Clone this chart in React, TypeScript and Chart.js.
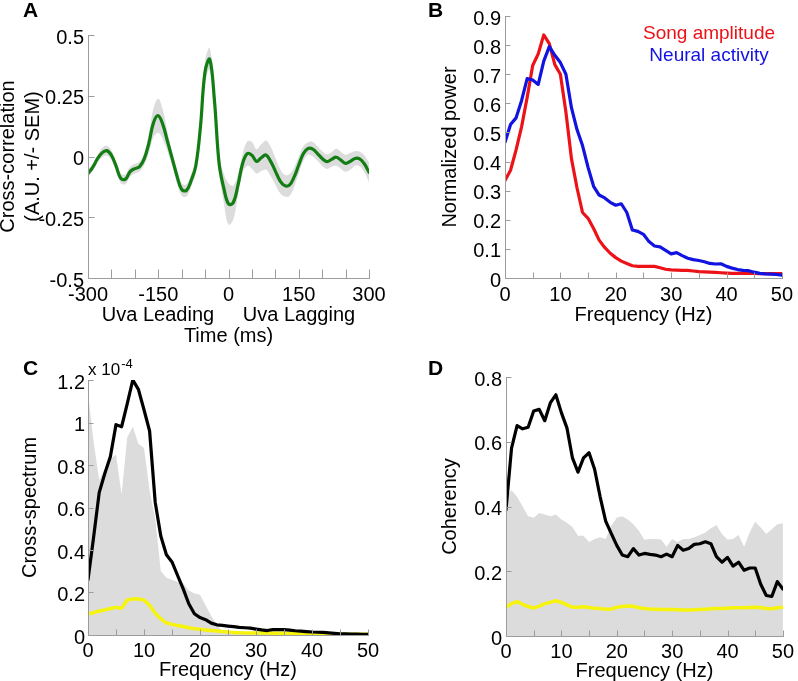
import React, { useEffect, useRef } from "react";
import { Chart, registerables } from "chart.js";

Chart.register(...registerables);
Chart.defaults.font.family = '"Liberation Sans", Arial, sans-serif';
Chart.defaults.color = "#000";

// ---------- Panel A : cross-correlation ----------
const lagMs = [
  -300, -290, -280, -270, -260, -250, -240, -230, -220, -210, -200, -190, -180, -170, -160, -150,
  -140, -130, -120, -110, -100, -90, -80, -70, -60, -50, -40, -30, -20, -10, 0, 10, 20, 30, 40, 50,
  60, 70, 80, 90, 100, 110, 120, 130, 140, 150, 160, 170, 180, 190, 200, 210, 220, 230, 240, 250,
  260, 270, 280, 290, 300,
];
const xcorrMean = [
  -0.07, -0.045, -0.01, 0.015, 0.024, 0.005, -0.04, -0.09, -0.093, -0.062, -0.05, -0.042, -0.01,
  0.055, 0.14, 0.168, 0.13, 0.06, -0.01, -0.08, -0.135, -0.14, -0.1, -0.04, 0.12, 0.35, 0.4, 0.23,
  -0.03, -0.13, -0.195, -0.19, -0.12, -0.03, 0.012, 0.005, -0.02, -0.005, 0.006, -0.02, -0.06, -0.1,
  -0.12, -0.118, -0.085, -0.035, 0.012, 0.033, 0.03, 0.012, -0.008, -0.021, -0.012, -0.003, -0.015,
  -0.028, -0.02, -0.008, -0.01, -0.03, -0.065,
];
const xcorrSem = [
  0.015, 0.015, 0.015, 0.02, 0.02, 0.02, 0.02, 0.02, 0.02, 0.02, 0.02, 0.02, 0.025, 0.04, 0.06, 0.07,
  0.06, 0.04, 0.03, 0.03, 0.025, 0.025, 0.025, 0.03, 0.04, 0.045, 0.045, 0.04, 0.04, 0.06, 0.085,
  0.07, 0.045, 0.04, 0.05, 0.055, 0.05, 0.055, 0.06, 0.06, 0.055, 0.05, 0.045, 0.045, 0.04, 0.035,
  0.03, 0.025, 0.03, 0.03, 0.03, 0.03, 0.03, 0.035, 0.035, 0.035, 0.035, 0.03, 0.03, 0.035, 0.04,
];
const lagTicksA = [-300, -250, -200, -150, -100, -50, 0, 50, 100, 150, 200, 250, 300];
const lagLabelsA = [-300, -150, 0, 150, 300];
const xcorrTicksA = [-0.5, -0.25, 0, 0.25, 0.5];

// ---------- shared frequency axis (Hz) ----------
const freqHz = [
  0, 1, 2, 3, 4, 5, 6, 7, 8, 9, 10, 11, 12, 13, 14, 15, 16, 17, 18, 19, 20, 21, 22, 23, 24, 25, 26,
  27, 28, 29, 30, 31, 32, 33, 34, 35, 36, 37, 38, 39, 40, 41, 42, 43, 44, 45, 46, 47, 48, 49, 50,
];
const freqTicks = [0, 5, 10, 15, 20, 25, 30, 35, 40, 45, 50];
const freqLabels = [0, 10, 20, 30, 40, 50];

// ---------- Panel B : normalized power ----------
const songPower = [
  0.335, 0.37, 0.44, 0.52, 0.62, 0.73, 0.77, 0.835, 0.805, 0.733, 0.7, 0.57, 0.41, 0.31, 0.225, 0.205,
  0.17, 0.13, 0.105, 0.085, 0.07, 0.058, 0.05, 0.042, 0.04, 0.04, 0.04, 0.04, 0.035, 0.03, 0.028,
  0.027, 0.026, 0.026, 0.024, 0.022, 0.021, 0.02, 0.019, 0.018, 0.017, 0.016, 0.016, 0.016, 0.016,
  0.016, 0.015, 0.015, 0.015, 0.015, 0.015,
];
const neuralPower = [
  0.466, 0.527, 0.55, 0.61, 0.685, 0.68, 0.665, 0.745, 0.795, 0.765, 0.74, 0.7, 0.585, 0.51, 0.455,
  0.38, 0.315, 0.285, 0.275, 0.26, 0.25, 0.255, 0.225, 0.165, 0.16, 0.15, 0.125, 0.11, 0.107, 0.095,
  0.083, 0.087, 0.077, 0.068, 0.063, 0.06, 0.056, 0.05, 0.048, 0.049, 0.04, 0.034, 0.029, 0.026,
  0.025, 0.02, 0.016, 0.014, 0.013, 0.012, 0.01,
];
const powerTicks = [0, 0.1, 0.2, 0.3, 0.4, 0.5, 0.6, 0.7, 0.8, 0.9];

// ---------- Panel C : cross-spectrum (x 1e-4) ----------
const crossSpec = [
  0.26, 0.46, 0.67, 0.76, 0.84, 0.99, 0.98, 1.088, 1.2, 1.156, 1.06, 0.96, 0.625, 0.466, 0.378, 0.344,
  0.28, 0.217, 0.147, 0.1, 0.082, 0.072, 0.056, 0.048, 0.045, 0.042, 0.039, 0.036, 0.034, 0.032,
  0.028, 0.024, 0.021, 0.025, 0.026, 0.025, 0.023, 0.02, 0.018, 0.016, 0.014, 0.013, 0.012, 0.01,
  0.008, 0.006, 0.005, 0.004, 0.004, 0.003, 0.003,
];
const crossSpecShuffle = [
  1.14, 0.91, 0.73, 0.78, 0.83, 0.85, 0.66, 0.93, 0.98, 0.9, 0.88, 0.68, 0.55, 0.3, 0.27, 0.26, 0.25,
  0.243, 0.21, 0.195, 0.19, 0.14, 0.09, 0.05, 0.015, 0.012, 0.011, 0.011, 0.01, 0.01, 0.01, 0.009,
  0.009, 0.009, 0.008, 0.008, 0.008, 0.007, 0.007, 0.007, 0.006, 0.006, 0.006, 0.006, 0.005, 0.005,
  0.005, 0.005, 0.004, 0.004, 0.004,
];
const crossSpecBaseline = [
  0.1, 0.105, 0.113, 0.118, 0.125, 0.13, 0.126, 0.165, 0.17, 0.17, 0.164, 0.14, 0.102, 0.076, 0.057,
  0.05, 0.045, 0.04, 0.034, 0.03, 0.027, 0.024, 0.021, 0.019, 0.016, 0.014, 0.012, 0.011, 0.01, 0.01,
  0.009, 0.009, 0.009, 0.008, 0.008, 0.008, 0.007, 0.007, 0.007, 0.006, 0.006, 0.006, 0.005, 0.005,
  0.004, 0.004, 0.004, 0.003, 0.003, 0.003, 0.003,
];
const specTicks = [0, 0.2, 0.4, 0.6, 0.8, 1, 1.2];

// ---------- Panel D : coherency ----------
const coherency = [
  0.39, 0.58, 0.65, 0.64, 0.645, 0.695, 0.7, 0.665, 0.72, 0.745, 0.69, 0.643, 0.55, 0.506, 0.55,
  0.566, 0.515, 0.43, 0.355, 0.317, 0.28, 0.25, 0.245, 0.27, 0.25, 0.255, 0.252, 0.25, 0.245, 0.253,
  0.245, 0.28, 0.265, 0.27, 0.283, 0.285, 0.291, 0.285, 0.245, 0.228, 0.243, 0.216, 0.228, 0.203,
  0.21, 0.21, 0.16, 0.125, 0.122, 0.168, 0.145,
];
const coherencyShuffle = [
  0.43, 0.45, 0.43, 0.4, 0.37, 0.365, 0.38, 0.375, 0.37, 0.375, 0.36, 0.35, 0.337, 0.31, 0.31, 0.29,
  0.3, 0.305, 0.3, 0.34, 0.365, 0.37, 0.36, 0.345, 0.325, 0.297, 0.3, 0.3, 0.298, 0.276, 0.3, 0.29,
  0.3, 0.3, 0.305, 0.312, 0.32, 0.333, 0.343, 0.315, 0.297, 0.3, 0.312, 0.276, 0.32, 0.353, 0.335,
  0.315, 0.33, 0.345, 0.348,
];
const coherencyBaseline = [
  0.089, 0.1, 0.106, 0.098, 0.091, 0.086, 0.092, 0.1, 0.104, 0.109, 0.104, 0.096, 0.089, 0.089, 0.09,
  0.088, 0.086, 0.085, 0.083, 0.083, 0.089, 0.091, 0.093, 0.092, 0.087, 0.085, 0.083, 0.083, 0.082,
  0.082, 0.082, 0.081, 0.08, 0.08, 0.081, 0.082, 0.083, 0.084, 0.085, 0.085, 0.086, 0.087, 0.087,
  0.087, 0.088, 0.089, 0.088, 0.085, 0.084, 0.087, 0.089,
];
const cohTicks = [0, 0.2, 0.4, 0.6, 0.8];

// ---------- styles ----------
const GREEN = "rgb(18,125,18)";
const RED = "rgb(236,18,24)";
const BLUE = "rgb(18,18,225)";
const BLACK = "#000";
const YELLOW = "rgb(246,244,12)";
const GRAY = "rgb(220,220,220)";
const AXIS = "#9c9c9c";
const FAM = '"Liberation Sans", Arial, sans-serif';

const pts = (xs: number[], ys: number[]) => xs.map((x, i) => ({ x, y: ys[i] }));

type Txt = {
  text: string;
  x: number;
  y: number;
  font: string;
  color?: string;
  align?: CanvasTextAlign;
  baseline?: CanvasTextBaseline;
  sup?: { text: string; font: string; dy: number };
};

function axesPlugin(xLen: number, yLen: number) {
  return {
    id: "axesInward",
    afterDatasetsDraw(chart: any) {
      const { ctx, chartArea: a, scales } = chart;
      ctx.save();
      ctx.strokeStyle = AXIS;
      ctx.lineWidth = 1;
      ctx.beginPath();
      const L = Math.round(a.left) + 0.5;
      const B = Math.round(a.bottom) + 0.5;
      ctx.moveTo(L, Math.round(a.top));
      ctx.lineTo(L, B);
      ctx.lineTo(Math.round(a.right) + 1, B);
      for (const t of scales.x.ticks) {
        const p = Math.round(scales.x.getPixelForValue(t.value)) + 0.5;
        ctx.moveTo(p, B);
        ctx.lineTo(p, B - xLen);
      }
      for (const t of scales.y.ticks) {
        const p = Math.round(scales.y.getPixelForValue(t.value)) + 0.5;
        ctx.moveTo(L, p);
        ctx.lineTo(L + yLen, p);
      }
      ctx.stroke();
      ctx.restore();
    },
  };
}

function textPlugin(items: Txt[]) {
  return {
    id: "panelText",
    afterDraw(chart: any) {
      const ctx = chart.ctx as CanvasRenderingContext2D;
      ctx.save();
      for (const t of items) {
        ctx.font = t.font;
        ctx.fillStyle = t.color || "#000";
        ctx.textAlign = t.align || "left";
        ctx.textBaseline = t.baseline || "alphabetic";
        ctx.fillText(t.text, t.x, t.y);
        if (t.sup) {
          const w = ctx.measureText(t.text).width;
          ctx.font = t.sup.font;
          ctx.textAlign = "left";
          ctx.fillText(t.sup.text, t.x + w + 1, t.y + t.sup.dy);
        }
      }
      ctx.restore();
    },
  };
}

type AxisSpec = {
  min: number;
  max: number;
  ticks: number[];
  labels?: number[];
  size: number;
  title: string | string[];
  titlePad: number;
  tickPad: number;
  labelOffset?: number;
};

function xAxis(s: AxisSpec) {
  return {
    type: "linear",
    min: s.min,
    max: s.max,
    afterBuildTicks: (sc: any) => {
      sc.ticks = s.ticks.map((v) => ({ value: v }));
    },
    afterFit: (sc: any) => {
      sc.height = s.size;
    },
    grid: { display: false, drawTicks: false },
    border: { display: false },
    ticks: {
      autoSkip: false,
      maxRotation: 0,
      minRotation: 0,
      padding: s.tickPad,
      color: "#000",
      font: { size: 20 },
      callback: (v: number) => (!s.labels || s.labels.includes(v) ? String(v) : ""),
    },
    title: {
      display: true,
      text: s.title,
      color: "#000",
      font: { size: 20, lineHeight: 1.2 },
      padding: { top: 0, bottom: s.titlePad },
    },
  };
}

function yAxis(s: AxisSpec) {
  return {
    type: "linear",
    min: s.min,
    max: s.max,
    afterBuildTicks: (sc: any) => {
      sc.ticks = s.ticks.map((v) => ({ value: v }));
    },
    afterFit: (sc: any) => {
      sc.width = s.size;
    },
    grid: { display: false, drawTicks: false },
    border: { display: false },
    ticks: {
      autoSkip: false,
      padding: s.tickPad,
      labelOffset: s.labelOffset ?? 3,
      color: "#000",
      font: { size: 20 },
      callback: (v: number) => String(v),
    },
    title: {
      display: true,
      text: s.title,
      color: "#000",
      font: { size: 20, lineHeight: 1.25 },
      padding: { top: s.titlePad, bottom: 0 },
    },
  };
}

function baseOptions(padding: any, x: any, y: any) {
  return {
    animation: false,
    responsive: false,
    maintainAspectRatio: false,
    devicePixelRatio: 1,
    events: [],
    layout: { padding },
    plugins: { legend: { display: false }, tooltip: { enabled: false } },
    scales: { x, y },
  };
}

const lineDs = (data: any, color: string, width: number, order: number, tension = 0) => ({
  data,
  borderColor: color,
  borderWidth: width,
  pointRadius: 0,
  tension,
  fill: false,
  order,
  borderJoinStyle: "round",
  borderCapStyle: "round",
});

function configA(): any {
  const upper = xcorrMean.map((m, i) => m + xcorrSem[i]);
  const lower = xcorrMean.map((m, i) => m - xcorrSem[i]);
  return {
    type: "line",
    data: {
      datasets: [
        lineDs(pts(lagMs, xcorrMean), GREEN, 3.2, 0, 0.4),
        {
          data: pts(lagMs, upper),
          borderWidth: 0,
          borderColor: "rgba(0,0,0,0)",
          backgroundColor: GRAY,
          pointRadius: 0,
          tension: 0.4,
          fill: "+1",
          order: 1,
        },
        {
          data: pts(lagMs, lower),
          borderWidth: 0,
          borderColor: "rgba(0,0,0,0)",
          pointRadius: 0,
          tension: 0.4,
          fill: false,
          order: 2,
        },
      ],
    },
    options: baseOptions(
      { left: 0, top: 35, right: 30, bottom: 0 },
      xAxis({ min: -300, max: 300, ticks: lagTicksA, labels: lagLabelsA, size: 74, title: "Time (ms)", titlePad: 4, tickPad: 5 }),
      yAxis({ min: -0.5, max: 0.5, ticks: xcorrTicksA, size: 88, title: ["Cross-correlation", "(A.U. +/- SEM)"], titlePad: -4, tickPad: 4 })
    ),
    plugins: [
      axesPlugin(9, 6),
      textPlugin([
        { text: "A", x: 23, y: 17, font: `bold 21px ${FAM}` },
        { text: "Uva Leading", x: 158, y: 315, font: `20px ${FAM}`, align: "center", baseline: "middle" },
        { text: "Uva Lagging", x: 299, y: 315, font: `20px ${FAM}`, align: "center", baseline: "middle" },
      ]),
    ],
  };
}

function configB(): any {
  return {
    type: "line",
    data: {
      datasets: [
        lineDs(pts(freqHz, neuralPower), BLUE, 3.2, 0),
        lineDs(pts(freqHz, songPower), RED, 3.2, 1),
      ],
    },
    options: baseOptions(
      { left: 0, top: 15, right: 13, bottom: 0 },
      xAxis({ min: 0, max: 50, ticks: freqTicks, labels: freqLabels, size: 62, title: "Frequency (Hz)", titlePad: 13, tickPad: 5 }),
      yAxis({ min: 0, max: 0.9, ticks: powerTicks, size: 106, title: "Normalized power", titlePad: 38.5, tickPad: 4 })
    ),
    plugins: [
      axesPlugin(6, 5),
      textPlugin([
        { text: "B", x: 29, y: 17, font: `bold 21px ${FAM}` },
        { text: "Song amplitude", x: 310, y: 34, font: `19px ${FAM}`, color: RED, align: "center", baseline: "middle" },
        { text: "Neural activity", x: 310, y: 56, font: `19px ${FAM}`, color: BLUE, align: "center", baseline: "middle" },
      ]),
    ],
  };
}

function configC(): any {
  return {
    type: "line",
    data: {
      datasets: [
        lineDs(pts(freqHz, crossSpec), BLACK, 3.2, 0),
        lineDs(pts(freqHz, crossSpecBaseline), YELLOW, 3.5, 1),
        {
          data: pts(freqHz, crossSpecShuffle),
          borderWidth: 0,
          borderColor: "rgba(0,0,0,0)",
          backgroundColor: GRAY,
          pointRadius: 0,
          tension: 0,
          fill: "origin",
          order: 2,
        },
      ],
    },
    options: baseOptions(
      { left: 0, top: 40, right: 31, bottom: 0 },
      xAxis({ min: 0, max: 50, ticks: freqTicks, labels: freqLabels, size: 46, title: "Frequency (Hz)", titlePad: -1, tickPad: 4 }),
      yAxis({ min: 0, max: 1.2, ticks: specTicks, size: 88, title: "Cross-spectrum", titlePad: 17.5, tickPad: 3 })
    ),
    plugins: [
      axesPlugin(6, 5),
      textPlugin([
        { text: "C", x: 23, y: 35, font: `bold 21px ${FAM}` },
        { text: "x 10", x: 88, y: 35, font: `17px ${FAM}`, sup: { text: "-4", font: `13px ${FAM}`, dy: -7 } },
      ]),
    ],
  };
}

function configD(): any {
  return {
    type: "line",
    data: {
      datasets: [
        lineDs(pts(freqHz, coherency), BLACK, 3.2, 0),
        lineDs(pts(freqHz, coherencyBaseline), YELLOW, 3.5, 1),
        {
          data: pts(freqHz, coherencyShuffle),
          borderWidth: 0,
          borderColor: "rgba(0,0,0,0)",
          backgroundColor: GRAY,
          pointRadius: 0,
          tension: 0,
          fill: "origin",
          order: 2,
        },
      ],
    },
    options: baseOptions(
      { left: 0, top: 37, right: 11, bottom: 0 },
      xAxis({ min: 0, max: 50, ticks: freqTicks, labels: freqLabels, size: 45, title: "Frequency (Hz)", titlePad: -2.5, tickPad: 4 }),
      yAxis({ min: 0, max: 0.8, ticks: cohTicks, size: 107, title: "Coherency", titlePad: 38.5, tickPad: 4 })
    ),
    plugins: [axesPlugin(6, 5), textPlugin([{ text: "D", x: 29, y: 35, font: `bold 21px ${FAM}` }])],
  };
}

function Panel(props: { left: number; top: number; width: number; height: number; build: () => any }) {
  const ref = useRef<HTMLCanvasElement | null>(null);
  useEffect(() => {
    if (!ref.current) return;
    const chart = new Chart(ref.current, props.build());
    return () => chart.destroy();
  }, []);
  return (
    <canvas
      ref={ref}
      width={props.width}
      height={props.height}
      style={{ position: "absolute", left: props.left, top: props.top, width: props.width, height: props.height }}
    />
  );
}

export default function App() {
  return (
    <div style={{ position: "fixed", left: 0, top: 0, width: 798, height: 681, background: "#fff", overflow: "hidden" }}>
      <Panel left={0} top={340} width={399} height={341} build={configC} />
      <Panel left={399} top={340} width={399} height={341} build={configD} />
      <Panel left={0} top={0} width={399} height={352} build={configA} />
      <Panel left={399} top={0} width={399} height={340} build={configB} />
    </div>
  );
}
